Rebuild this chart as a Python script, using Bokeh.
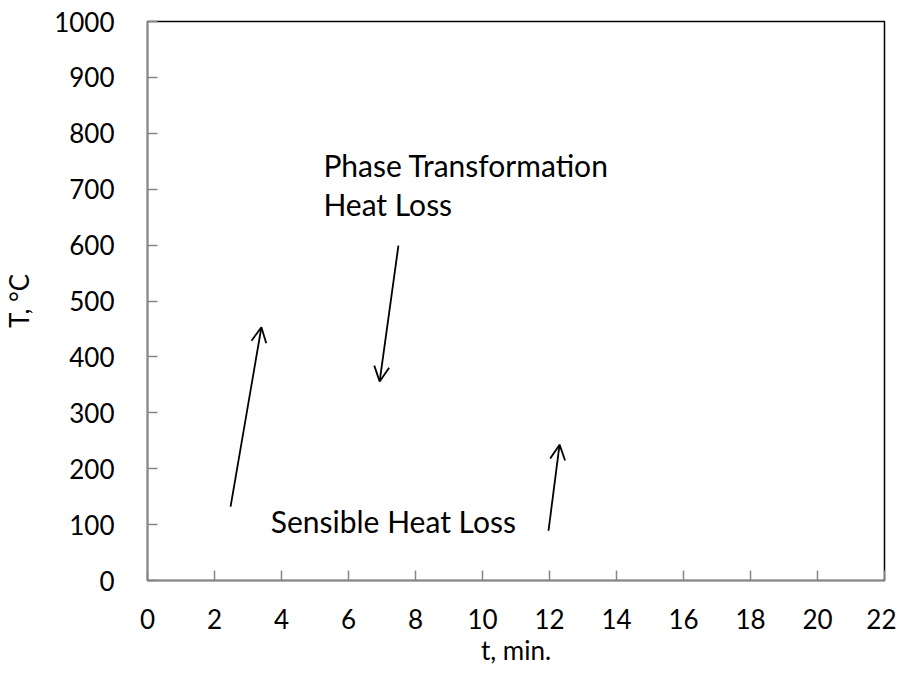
from bokeh.plotting import figure
from bokeh.models import Arrow, OpenHead, Label, ColumnDataSource, FixedTicker
from bokeh.embed import file_html
from bokeh.resources import INLINE

# --- data ---
x_ticks = [0, 2, 4, 6, 8, 10, 12, 14, 16, 18, 20, 22]
y_ticks = [0, 100, 200, 300, 400, 500, 600, 700, 800, 900, 1000]

arrow_x_start = [2.48, 7.49, 11.97]
arrow_y_start = [132, 599, 89]
arrow_x_end = [3.40, 6.93, 12.30]
arrow_y_end = [453, 356, 243]

label_texts = ["Phase Transformation", "Heat Loss", "Sensible Heat Loss"]
label_x = [5.25, 5.25, 3.68]
label_y = [744, 673, 107]

FONT = "Lato"
FS_TICK = "26px"
FS_TEXT = "30px"

p = figure(frame_width=737, frame_height=559,
           x_range=(0, 22), y_range=(0, 1000),
           output_backend="svg", toolbar_location=None,
           min_border_left=10, min_border_right=12,
           min_border_top=21, min_border_bottom=10)

p.xgrid.visible = False
p.ygrid.visible = False
p.outline_line_color = "black"
p.outline_line_width = 1.5
p.background_fill_color = "white"
p.border_fill_color = "white"

for ax in (p.xaxis, p.yaxis):
    ax.axis_line_color = "#868686"
    ax.axis_line_width = 1.5
    ax.major_tick_line_color = "#868686"
    ax.major_tick_line_width = 1.5
    ax.major_tick_in = 10
    ax.major_tick_out = 0
    ax.minor_tick_line_color = None
    ax.major_label_text_font = FONT
    ax.major_label_text_font_size = FS_TICK
    ax.major_label_text_color = "black"
    ax.axis_label_text_font = FONT
    ax.axis_label_text_font_size = FS_TICK
    ax.axis_label_text_font_style = "normal"
    ax.axis_label_text_color = "black"

p.xaxis.ticker = FixedTicker(ticks=x_ticks)
p.yaxis.ticker = FixedTicker(ticks=y_ticks)
p.xaxis.axis_label = "t, min."
p.yaxis.axis_label = "T, °C"
p.yaxis.major_label_standoff = 33
p.yaxis.axis_label_standoff = 16
p.xaxis.major_label_standoff = 28
p.xaxis.axis_label_standoff = 2

src = ColumnDataSource(dict(x0=arrow_x_start, y0=arrow_y_start,
                            x1=arrow_x_end, y1=arrow_y_end))
p.add_layout(Arrow(end=OpenHead(size=15, line_width=1.8, line_color="black"),
                   x_start="x0", y_start="y0", x_end="x1", y_end="y1",
                   line_width=1.8, line_color="black", source=src))

for t, lx, ly in zip(label_texts, label_x, label_y):
    p.add_layout(Label(x=lx, y=ly, text=t, text_font=FONT, text_font_size=FS_TEXT,
                       text_color="black", text_baseline="middle",
                       text_align="left"))

open("out.html", "w").write(file_html(p, INLINE))
